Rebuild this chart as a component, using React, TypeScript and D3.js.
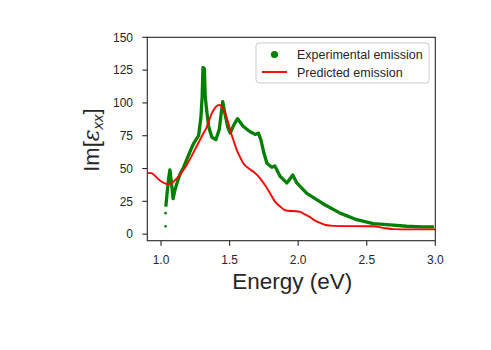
import React from 'react';
import * as d3 from 'd3';

// experimental emission
const expEnergy = [1.035, 1.045, 1.055, 1.065, 1.075, 1.088, 1.10, 1.12, 1.14, 1.165, 1.20, 1.237, 1.274, 1.291, 1.300, 1.306, 1.316, 1.322, 1.330, 1.347, 1.370, 1.400, 1.425, 1.440, 1.450, 1.462, 1.485, 1.505, 1.525, 1.558, 1.600, 1.650, 1.687, 1.710, 1.728, 1.750, 1.772, 1.808, 1.830, 1.869, 1.918, 1.961, 1.990, 2.063, 2.184, 2.306, 2.427, 2.548, 2.670, 2.790, 2.900, 2.990];
const expValue = [21, 32, 42, 49, 40, 27, 33, 40, 46, 51, 60, 69, 75, 89, 105, 127, 126, 106, 97, 82, 74, 72, 80, 93, 101, 94, 82, 77, 82, 88, 82, 78, 76, 77, 72, 62, 54, 51, 52, 44, 39, 45, 39, 31, 23, 16, 11, 8, 7, 6, 5.5, 5.5];
// a couple of stray points below the start of the trace
const strayEnergy = [1.033, 1.033];
const strayValue = [6, 16];

// predicted emission
const predEnergy = [0.90, 0.93, 0.96, 0.99, 1.02, 1.055, 1.09, 1.12, 1.165, 1.21, 1.26, 1.30, 1.335, 1.37, 1.40, 1.427, 1.45, 1.468, 1.49, 1.505, 1.53, 1.553, 1.58, 1.60, 1.64, 1.675, 1.723, 1.76, 1.796, 1.83, 1.869, 1.90, 1.93, 1.97, 2.015, 2.05, 2.087, 2.12, 2.16, 2.20, 2.257, 2.35, 2.427, 2.548, 2.62, 2.694, 2.80, 2.90, 3.00];
const predValue = [46.5, 46.5, 44, 41, 39, 38, 40, 43, 49, 57, 67, 75, 82, 92, 97, 98.5, 96, 92, 85, 79, 71, 64, 58, 54, 50, 47.5, 42.5, 37, 31, 25, 21, 18.5, 17.8, 17.5, 17, 15, 13, 10.5, 8.6, 7, 6.3, 6.1, 6.1, 6, 4.8, 3.8, 3.6, 3.6, 3.6];

const xTicks = [1.0, 1.5, 2.0, 2.5, 3.0];
const yTicks = [0, 25, 50, 75, 100, 125, 150];
const legendLabels = ['Experimental emission', 'Predicted emission'];

const W = 491;
const H = 350;
const left = 147.3, right = 435.3, top = 37.3, bottom = 240.7;
const ink = '#262626';
const font = '"Liberation Sans", Arial, sans-serif';

export default function App() {
  const x = d3.scaleLinear().domain([0.9, 3.0]).range([left, right]);
  const y = d3.scaleLinear().domain([-5, 150]).range([bottom, top]);

  const exp = expEnergy.map((e, i) => [e, expValue[i]] as [number, number]);
  const pred = predEnergy.map((e, i) => [e, predValue[i]] as [number, number]);

  const expLine = d3.line<[number, number]>()
    .x(d => x(d[0]))
    .y(d => y(d[1]));
  const predLine = d3.line<[number, number]>()
    .x(d => x(d[0]))
    .y(d => y(d[1]))
    .curve(d3.curveMonotoneX);

  return (
    <svg width={W} height={H} style={{ position: 'absolute', left: 0, top: 0, background: '#fff' }} fontFamily={font}>
      <defs>
        <clipPath id="plot">
          <rect x={left} y={top} width={right - left} height={bottom - top} />
        </clipPath>
      </defs>
      <g clipPath="url(#plot)">
        <path d={expLine(exp) || ''} fill="none" stroke="green" strokeWidth={3.3} strokeLinejoin="round" />
        {strayEnergy.map((e, i) => (
          <circle key={i} cx={x(e)} cy={y(strayValue[i])} r={1.3} fill="green" />
        ))}
        <path d={predLine(pred) || ''} fill="none" stroke="red" strokeWidth={1.9} />
      </g>

      {/* frame */}
      <rect x={left} y={top} width={right - left} height={bottom - top} fill="none" stroke={ink} strokeWidth={1.1} />

      {/* x axis */}
      {xTicks.map(t => (
        <g key={t}>
          <line x1={x(t)} x2={x(t)} y1={bottom} y2={bottom + 5} stroke={ink} strokeWidth={1.1} />
          <text x={x(t)} y={264} textAnchor="middle" fontSize={12} fill={ink}>{t.toFixed(1)}</text>
        </g>
      ))}
      <text x={(left + right) / 2 + 1} y={289} textAnchor="middle" fontSize={22.5} fill={ink}>Energy (eV)</text>

      {/* y axis */}
      {yTicks.map(t => (
        <g key={t}>
          <line x1={left - 5} x2={left} y1={y(t)} y2={y(t)} stroke={ink} strokeWidth={1.1} />
          <text x={133} y={y(t) + 4.3} textAnchor="end" fontSize={12} fill={ink}>{t}</text>
        </g>
      ))}
      <text transform={`translate(99,${(top + bottom) / 2 + 1}) rotate(-90)`} textAnchor="middle" fontSize={22} fill={ink}>
        Im[<tspan fontFamily='"DejaVu Serif", serif' fontStyle="italic">ε</tspan>
        <tspan fontSize={15} dy={4} fontStyle="italic">xx</tspan>
        <tspan dy={-4}>]</tspan>
      </text>

      {/* legend */}
      <rect x={256} y={43} width={173} height={40} rx={3} fill="#fff" fillOpacity={0.8} stroke="#cccccc" strokeWidth={1} />
      <circle cx={274.5} cy={54.5} r={3.6} fill="green" />
      <line x1={262} x2={287} y1={72} y2={72} stroke="red" strokeWidth={1.9} />
      <text x={297} y={59} fontSize={12.5} fill={ink}>{legendLabels[0]}</text>
      <text x={297} y={77} fontSize={12.5} fill={ink}>{legendLabels[1]}</text>
    </svg>
  );
}
